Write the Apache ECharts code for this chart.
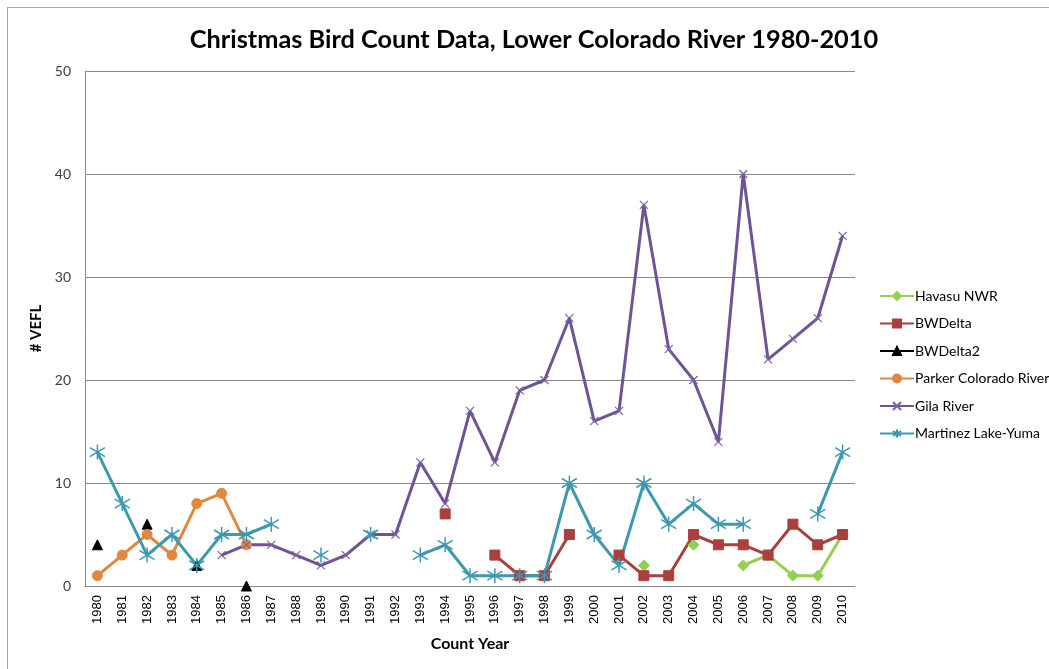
<!DOCTYPE html>
<html>
<head>
<meta charset="utf-8">
<script src="https://cdn.jsdelivr.net/npm/echarts@6/dist/echarts.min.js"></script>
<style>
html,body{margin:0;padding:0;background:#fff;}
#frame{position:absolute;left:7px;top:7px;width:1100px;height:700px;border-left:1px solid #a6a6a6;border-top:1px solid #a6a6a6;}
#chart{position:absolute;left:0;top:0;width:1049px;height:669px;}
</style>
</head>
<body>
<div id="frame"></div>
<div id="chart"></div>
<script>
const years = ['1980','1981','1982','1983','1984','1985','1986','1987','1988','1989','1990','1991','1992','1993','1994','1995','1996','1997','1998','1999','2000','2001','2002','2003','2004','2005','2006','2007','2008','2009','2010'];
const yTicks = [0, 10, 20, 30, 40, 50];
const havasu = [null,null,null,null,null,null,null,null,null,null,null,null,null,null,null,null,null,null,null,null,null,null,2,null,4,null,2,3,1,1,5];
const bwDelta = [null,null,null,null,null,null,null,null,null,null,null,null,null,null,7,null,3,1,1,5,null,3,1,1,5,4,4,3,6,4,5];
const bwDelta2 = [4,null,6,null,2,null,0,null,null,null,null,null,null,null,null,null,null,null,null,null,null,null,null,null,null,null,null,null,null,null,null];
const parker = [1,3,5,3,8,9,4,null,null,null,null,null,null,null,null,null,null,null,null,null,null,null,null,null,null,null,null,null,null,null,null];
const gila = [null,null,null,null,null,3,4,4,3,2,3,5,5,12,8,17,12,19,20,26,16,17,37,23,20,14,40,22,24,26,34];
const martinez = [13,8,3,5,2,5,5,6,null,3,null,5,null,3,4,1,1,1,1,10,5,2,10,6,8,6,6,null,null,7,13];

const seriesNames = ['Havasu NWR','BWDelta','BWDelta2','Parker Colorado River','Gila River','Martinez Lake-Yuma'];

const chart = echarts.init(document.getElementById('chart'));
function mk(name, data, color, symbol, size, extra) {
  return Object.assign({
    name: name,
    type: 'line',
    data: data,
    connectNulls: false,
    showAllSymbol: true,
    symbol: symbol,
    symbolSize: size,
    lineStyle: { color: color, width: 3 },
    itemStyle: { color: color, borderColor: color, borderWidth: 1 },
    emphasis: { disabled: true },
    animation: false
  }, extra || {});
}
chart.setOption({
  animation: false,
  title: {
    text: 'Christmas Bird Count Data, Lower Colorado River 1980-2010',
    left: 529, top: 22, textAlign: 'center',
    textStyle: { fontFamily: 'Lato', fontWeight: 'bold', fontSize: 25.3, color: '#000' }
  },
  legend: {
    orient: 'vertical',
    left: 874, top: 284,
    itemWidth: 34, itemHeight: 10, itemGap: 13.5,
    data: seriesNames,
    textStyle: { fontFamily: 'Lato', fontSize: 14, color: '#000', padding: [0,0,0,-4] }
  },
  grid: { left: 85, top: 71, right: 194, bottom: 83, containLabel: false },
  xAxis: {
    type: 'category',
    data: years,
    boundaryGap: true,
    name: 'Count Year',
    nameLocation: 'middle',
    nameGap: 50,
    nameTextStyle: { fontFamily: 'Lato', fontWeight: 'bold', fontSize: 16, color: '#000' },
    axisLine: { lineStyle: { color: '#898989', width: 1 } },
    axisTick: { show: false },
    axisLabel: { rotate: 90, interval: 0, fontFamily: 'Liberation Sans', fontSize: 13, color: '#000', margin: 9 }
  },
  yAxis: {
    type: 'value',
    min: yTicks[0], max: yTicks[yTicks.length - 1], interval: 10,
    name: '# VEFL',
    nameLocation: 'middle',
    nameGap: 39,
    nameRotate: 90,
    nameTextStyle: { fontFamily: 'Lato', fontWeight: 'bold', fontSize: 15, color: '#000' },
    axisLine: { show: true, lineStyle: { color: '#898989', width: 1 } },
    axisTick: { show: false },
    axisLabel: { fontFamily: 'Lato', fontSize: 14, color: '#404040', margin: 14 },
    splitLine: { lineStyle: { color: '#898989', width: 1 } }
  },
  series: [
    mk(seriesNames[0], havasu, '#92D050', 'diamond', 11),
    mk(seriesNames[1], bwDelta, '#A9403D', 'rect', 10),
    mk(seriesNames[2], bwDelta2, '#000000', 'triangle', 10),
    mk(seriesNames[3], parker, '#E0883D', 'circle', 10),
    mk(seriesNames[4], gila, '#6E5496', 'path://M0,0L10,10M10,0L0,10', 8,
       { itemStyle: { color: 'none', borderColor: '#7A62A8', borderWidth: 1.2 } }),
    mk(seriesNames[5], martinez, '#3D98B0', 'path://M5,0L5,10M0,2L10,8M0,8L10,2', 15,
       { itemStyle: { color: 'none', borderColor: '#3D98B0', borderWidth: 1.5 } })
  ]
});
</script>
</body>
</html>
